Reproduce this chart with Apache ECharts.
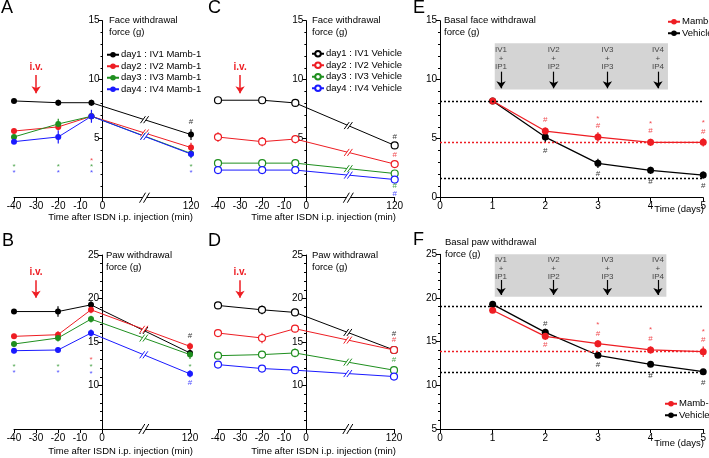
<!DOCTYPE html>
<html>
<head>
<meta charset="utf-8">
<script src="https://cdn.jsdelivr.net/npm/echarts@6/dist/echarts.min.js"></script>
<style>
  html, body { margin: 0; padding: 0; background: #fff; }
  #chart { width: 709px; height: 458px; }
</style>
</head>
<body>
<div id="chart"></div>
<script>
// ---- time-course panels (A-D): minutes after ISDN ----
const timesMin = [-40, -20, -5, 120];
const xTicksMin = [-40, -30, -20, -10, 0, 120];

// A: face, Mamb-1 (day1..day4)
const faceMambD1 = [8.2, 8.05, 8.05, 5.35];
const faceMambD2 = [5.65, 6.0, 6.9, 4.25];
const faceMambD3 = [5.15, 6.25, 6.9, 3.75];
const faceMambD4 = [4.75, 5.15, 6.9, 3.7];
const faceMambErr = [[0.15, 0.25, 0.25, 0.45], [0.2, 0.3, 0.3, 0.4], [0.2, 0.45, 0.3, 0.4], [0.2, 0.55, 0.55, 0.3]];

// C: face, vehicle
const faceVehD1 = [8.26, 8.26, 8.03, 4.43];
const faceVehD2 = [5.14, 4.75, 4.97, 2.85];
const faceVehD3 = [2.93, 2.93, 2.93, 2.05];
const faceVehD4 = [2.34, 2.34, 2.34, 1.54];
const faceVehErr = [[0.1, 0.15, 0.15, 0.2], [0.4, 0.4, 0.35, 0.25], [0.2, 0.2, 0.2, 0.15], [0.15, 0.15, 0.15, 0.15]];

// B: paw, Mamb-1
const pawMambD1 = [18.5, 18.5, 19.27, 13.74];
const pawMambD2 = [15.65, 15.84, 18.7, 14.5];
const pawMambD3 = [14.77, 15.46, 17.63, 13.55];
const pawMambD4 = [14.0, 14.08, 16.03, 11.34];
const pawMambErr = [[0.25, 0.6, 0.4, 0.4], [0.3, 0.4, 0.4, 0.4], [0.3, 0.4, 0.4, 0.5], [0.3, 0.3, 0.4, 0.4]];

// D: paw, vehicle
const pawVehD1 = [19.2, 18.7, 18.4, 14.08];
const pawVehD2 = [16.03, 15.46, 16.53, 14.08];
const pawVehD3 = [13.43, 13.55, 13.74, 11.76];
const pawVehD4 = [12.4, 11.95, 11.76, 11.03];
const pawVehErr = [[0.25, 0.5, 0.3, 0.3], [0.3, 0.6, 0.4, 0.3], [0.3, 0.4, 0.5, 0.3], [0.2, 0.3, 0.3, 0.3]];

const mambNames = ['day1 : IV1 Mamb-1', 'day2 : IV2 Mamb-1', 'day3 : IV3 Mamb-1', 'day4 : IV4 Mamb-1'];
const vehNames = ['day1 : IV1 Vehicle', 'day2 : IV2 Vehicle', 'day3 : IV3 Vehicle', 'day4 : IV4 Vehicle'];

// significance marks: [time, y, text, day index]
const sigA = [[-40, 2.6, '*', 2], [-40, 2.15, '*', 3], [-20, 2.6, '*', 2], [-20, 2.15, '*', 3],
  [-5, 3.1, '*', 1], [-5, 2.6, '*', 2], [-5, 2.15, '*', 3], [120, 6.45, '#', 0], [120, 2.6, '*', 2], [120, 2.1, '*', 3]];
const sigC = [[120, 5.2, '#', 0], [120, 3.65, '#', 1], [120, 0.98, '#', 2], [120, 0.36, '#', 3]];
const sigB = [[-40, 12.2, '*', 2], [-40, 11.5, '*', 3], [-20, 12.2, '*', 2], [-20, 11.5, '*', 3],
  [-5, 13.0, '*', 1], [-5, 12.2, '*', 2], [-5, 11.4, '*', 3], [120, 15.76, '#', 0], [120, 12.2, '*', 2], [120, 10.27, '#', 3]];
const sigD = [[120, 16.0, '#', 0], [120, 15.27, '#', 1], [120, 12.94, '#', 2]];

// i.v. arrow: [time, label y, arrow top, arrow bottom]
const ivFace = [-30, 10.85, 10.4, 8.85];
const ivPaw = [-30, 22.9, 22.1, 20.1];

// ---- daily panels (E-F) ----
const days = [1, 2, 3, 4, 5];
const faceBasalMamb = [8.19, 5.65, 5.14, 4.69, 4.69];
const faceBasalVeh = [8.19, 5.14, 2.91, 2.32, 1.92];
const faceBasalMambErr = [0.15, 0.3, 0.4, 0.3, 0.35];
const faceBasalVehErr = [0.15, 0.5, 0.4, 0.3, 0.3];
const pawBasalMamb = [18.59, 15.61, 14.77, 14.05, 13.85];
const pawBasalVeh = [19.27, 16.07, 13.44, 12.4, 11.56];
const pawBasalMambErr = [0.3, 0.4, 0.4, 0.4, 0.6];
const pawBasalVehErr = [0.3, 0.4, 0.3, 0.3, 0.3];

// reference levels: [y, group] (0 = Mamb-1, 1 = Vehicle)
const faceBaselines = [[8.19, 1], [4.66, 0], [1.69, 1]];
const pawBaselines = [[19.0, 1], [13.85, 0], [11.53, 1]];

// [day, y, text, group]
const sigE = [[2, 6.64, '#', 0], [2, 3.98, '#', 1], [3, 6.72, '*', 0], [3, 6.07, '#', 0], [3, 2.03, '#', 1],
  [4, 6.3, '*', 0], [4, 5.65, '#', 0], [4, 1.33, '#', 1], [5, 6.38, '*', 0], [5, 5.59, '#', 0], [5, 1.05, '#', 1]];
const sigF = [[2, 17.02, '#', 1], [2, 14.69, '#', 0], [3, 16.9, '*', 0], [3, 15.95, '#', 0], [3, 12.33, '#', 1],
  [4, 16.3, '*', 0], [4, 15.38, '#', 0], [4, 11.1, '#', 1], [5, 16.15, '*', 0], [5, 15.2, '#', 0], [5, 10.3, '#', 1]];

// treatment box: x range, y range, arrow x's, texts
const boxTexts = ['IV1\n+\nIP1', 'IV2\n+\nIP2', 'IV3\n+\nIP3', 'IV4\n+\nIP4'];
const boxArrowX = [1.16, 2.16, 3.18, 4.14];
const faceBox = [1.04, 4.33, 9.18, 13.08];   // x0, x1, y0, y1
const pawBox = [1.04, 4.3, 20.15, 25];
const faceBoxText = [12.9, 10.68, 9.27];     // text top, arrow top, arrow bottom
const pawBoxText = [24.9, 22.06, 20.34];

const BREAK_POS = 40;   // 120 min drawn here, after the axis break
const BREAK_MARK = 19;
const xPos = t => (t > 0 ? BREAK_POS : t);

const FONT = 'Liberation Sans, Arial, sans-serif';
const dayColors = ['#000000', '#ee1d23', '#1f8f1f', '#1a1aff'];
const grpColors = ['#ee1d23', '#000000'];

function errBar(params, api) {
  const x = api.value(0), y = api.value(1), e = api.value(2);
  const a = api.coord([x, y + e]);
  const b = api.coord([x, y - e]);
  return { type: 'line', shape: { x1: a[0], y1: a[1], x2: b[0], y2: b[1] },
    style: { stroke: api.visual('color'), lineWidth: 1.2 } };
}

function slashes(x, y, c, h, w, g) {
  return [
    { type: 'polygon', shape: { points: [[x - g - w, y + h], [x + g - w, y + h], [x + g + w, y - h], [x - g + w, y - h]] }, style: { fill: '#fff' } },
    { type: 'line', shape: { x1: x - g - w, y1: y + h, x2: x - g + w, y2: y - h }, style: { stroke: c, lineWidth: 1 } },
    { type: 'line', shape: { x1: x + g - w, y1: y + h, x2: x + g + w, y2: y - h }, style: { stroke: c, lineWidth: 1 } }
  ];
}

function breakMark(params, api) {
  const x1 = api.value(0), x2 = api.value(2);
  const p1 = api.coord([x1, api.value(1)]);
  const p2 = api.coord([x2, api.value(3)]);
  const f = (BREAK_MARK - x1) / (x2 - x1);
  const x = p1[0] + (p2[0] - p1[0]) * f;
  const y = p1[1] + (p2[1] - p1[1]) * f;
  return { type: 'group', children: slashes(x, y, api.visual('color'), 3.5, 2.5, 1.6) };
}

function axisBreak(params, api) {
  const p = api.coord([api.value(0), api.value(1)]);
  return { type: 'group', children: slashes(p[0], p[1], '#000', 5, 3, 2) };
}

function timePanel(gi, vals, errs, names, open, sig, iv, yMin) {
  const out = [];
  vals.forEach((v, k) => {
    out.push({ type: 'custom', xAxisIndex: gi, yAxisIndex: gi, renderItem: errBar, silent: true, z: 2,
      itemStyle: { color: dayColors[k] }, encode: { x: 0, y: 1 },
      data: timesMin.map((t, i) => [xPos(t), v[i], errs[k][i]]) });
  });
  vals.forEach((v, k) => {
    out.push({ type: 'line', name: names[k], xAxisIndex: gi, yAxisIndex: gi, z: 3, clip: false,
      symbol: 'circle', symbolSize: open ? 7 : 6, showSymbol: true,
      lineStyle: { color: dayColors[k], width: 1 },
      itemStyle: open ? { color: '#fff', borderColor: dayColors[k], borderWidth: 1.2 } : { color: dayColors[k] },
      data: timesMin.map((t, i) => [xPos(t), v[i]]) });
  });
  out.push({ type: 'custom', xAxisIndex: gi, yAxisIndex: gi, renderItem: breakMark, silent: true, z: 4,
    encode: { x: [0, 2], y: [1, 3] },
    data: vals.map((v, k) => ({ value: [xPos(-5), v[2], xPos(120), v[3]], itemStyle: { color: dayColors[k] } })) });
  out.push({ type: 'custom', xAxisIndex: gi, yAxisIndex: gi, renderItem: axisBreak, silent: true, z: 4,
    encode: { x: 0, y: 1 }, data: [[BREAK_MARK, yMin]] });
  out.push({ type: 'scatter', xAxisIndex: gi, yAxisIndex: gi, silent: true, z: 5, symbolSize: 1,
    itemStyle: { color: 'rgba(0,0,0,0)' },
    label: { show: true, position: 'inside', formatter: '{b}', fontSize: 8, fontFamily: FONT },
    data: sig.map(s => ({ value: [xPos(s[0]), s[1]], name: s[2], label: { color: dayColors[s[3]] } })),
    markLine: { silent: true, animation: false, symbol: ['none', 'arrow'], symbolSize: 7,
      lineStyle: { color: '#ee1d23', width: 1.5, type: 'solid' },
      label: { show: true, position: 'start', formatter: 'i.v.', color: '#ee1d23', fontSize: 10,
        fontWeight: 'bold', fontFamily: FONT, distance: 3 },
      data: [[{ coord: [iv[0], iv[2]] }, { coord: [iv[0], iv[3]] }]] } });
  return out;
}

function dayPanel(gi, mamb, veh, mambErr, vehErr, baselines, sig, box, boxText) {
  const out = [];
  out.push({ type: 'line', xAxisIndex: gi, yAxisIndex: gi, data: [], z: 0, silent: true,
    markArea: { silent: true, itemStyle: { color: '#d4d4d4' },
      data: [[{ coord: [box[0], box[3]] }, { coord: [box[1], box[2]] }]] } });
  out.push({ type: 'scatter', xAxisIndex: gi, yAxisIndex: gi, silent: true, z: 2, symbolSize: 1,
    itemStyle: { color: 'rgba(0,0,0,0)' },
    label: { show: true, position: 'bottom', distance: 0, formatter: '{b}', fontSize: 8, lineHeight: 8.5,
      color: '#222', fontFamily: FONT },
    data: boxArrowX.map((x, i) => ({ value: [x, boxText[0]], name: boxTexts[i] })),
    markLine: { silent: true, animation: false, symbol: ['none', 'arrow'], symbolSize: 7,
      lineStyle: { color: '#000', width: 1.2, type: 'solid' }, label: { show: false },
      data: boxArrowX.map(x => [{ coord: [x, boxText[1]] }, { coord: [x, boxText[2]] }]) } });
  [[veh, vehErr, 1], [mamb, mambErr, 0]].forEach(([v, e, g]) => {
    out.push({ type: 'custom', xAxisIndex: gi, yAxisIndex: gi, renderItem: errBar, silent: true, z: 3,
      itemStyle: { color: grpColors[g] }, encode: { x: 0, y: 1 },
      data: days.map((d, i) => [d, v[i], e[i]]) });
  });
  [[veh, 'Vehicle', 1], [mamb, 'Mamb-1', 0]].forEach(([v, name, g]) => {
    out.push({ type: 'line', name: name, xAxisIndex: gi, yAxisIndex: gi, z: 4, clip: false,
      symbol: 'circle', symbolSize: 7, lineStyle: { color: grpColors[g], width: 1.3 },
      itemStyle: { color: grpColors[g] }, data: days.map((d, i) => [d, v[i]]) });
  });
  out.push({ type: 'scatter', xAxisIndex: gi, yAxisIndex: gi, silent: true, z: 5, symbolSize: 1,
    itemStyle: { color: 'rgba(0,0,0,0)' },
    label: { show: true, position: 'inside', formatter: '{b}', fontSize: 8, fontFamily: FONT },
    data: sig.map(s => ({ value: [s[0], s[1]], name: s[2], label: { color: grpColors[s[3]] } })),
    markLine: { silent: true, animation: false, symbol: 'none', label: { show: false },
      data: baselines.map(b => ({ yAxis: b[0], lineStyle: { color: grpColors[b[1]], type: [2, 2], width: 1.3 } })) } });
  return out;
}

const grids = [
  { left: 14, top: 20.7, width: 177, height: 177 },     // A
  { left: 218, top: 20.7, width: 176.7, height: 177 },  // C
  { left: 14, top: 255, width: 176, height: 174 },      // B
  { left: 218, top: 255, width: 176, height: 174 },     // D
  { left: 440, top: 20.7, width: 265, height: 177 },    // E
  { left: 440, top: 254.3, width: 265, height: 174.7 }  // F
];

const axisTextStyle = { color: '#000', fontSize: 10, fontFamily: FONT };

function timeXAxis(gi) {
  return { gridIndex: gi, type: 'value', min: -40, max: BREAK_POS, interval: 10,
    axisLine: { onZero: false, lineStyle: { color: '#000', width: 1 } },
    axisTick: { customValues: xTicksMin.map(xPos), length: 4, lineStyle: { color: '#000' } },
    axisLabel: Object.assign({ customValues: xTicksMin.map(xPos), margin: 4,
      formatter: v => (v === BREAK_POS ? '120' : String(v)) }, axisTextStyle),
    splitLine: { show: false } };
}
function dayXAxis(gi) {
  return { gridIndex: gi, type: 'value', min: 0, max: 5, interval: 1,
    axisLine: { onZero: false, lineStyle: { color: '#000', width: 1 } },
    axisTick: { length: 4, lineStyle: { color: '#000' } },
    axisLabel: Object.assign({ margin: 4 }, axisTextStyle),
    splitLine: { show: false } };
}
// offset < 0 pulls the y axis into the grid (to the time-zero position)
function yAx(gi, min, max, hideMin, offset) {
  return { gridIndex: gi, type: 'value', min: min, max: max, interval: 5, position: 'left', offset: offset,
    axisLine: { show: true, onZero: false, lineStyle: { color: '#000', width: 1 } },
    axisTick: { show: true, length: 4, lineStyle: { color: '#000' } },
    minorTick: { show: true, splitNumber: 5, length: 2, lineStyle: { color: '#000' } },
    axisLabel: Object.assign({ margin: 3, formatter: v => (hideMin && v === min ? '' : String(v)) }, axisTextStyle),
    splitLine: { show: false }, minorSplitLine: { show: false } };
}

const legendBase = { orient: 'vertical', itemGap: 0, itemWidth: 12, itemHeight: 7, padding: 0,
  selectedMode: false, textStyle: { fontSize: 9.5, lineHeight: 11.5, color: '#000', fontFamily: FONT, padding: [0, 0, 0, -3] } };

function txt(x, y, text, opts) {
  return { type: 'text', x: x, y: y, silent: true,
    style: Object.assign({ text: text, fill: '#000', fontSize: 9.5, fontFamily: FONT, lineHeight: 11.5 }, opts || {}) };
}

const chart = echarts.init(document.getElementById('chart'));
chart.setOption({
  animation: false,
  backgroundColor: '#fff',
  grid: grids,
  xAxis: [timeXAxis(0), timeXAxis(1), timeXAxis(2), timeXAxis(3), dayXAxis(4), dayXAxis(5)],
  yAxis: [yAx(0, 0, 15, true, -88.5), yAx(1, 0, 15, true, -88.35), yAx(2, 5, 25, true, -88), yAx(3, 5, 25, true, -88),
    yAx(4, 0, 15, false, 0), yAx(5, 5, 25, false, 0)],
  legend: [
    Object.assign({}, legendBase, { data: mambNames, left: 106, top: 49 }),
    Object.assign({}, legendBase, { data: vehNames, left: 311, top: 48 }),
    Object.assign({}, legendBase, { data: ['Mamb-1', 'Vehicle'], left: 667, top: 16 }),
    Object.assign({}, legendBase, { data: ['Mamb-1', 'Vehicle'], left: 664, top: 398 })
  ],
  graphic: [
    txt(1, 2, 'A', { fontSize: 18 }), txt(208, 2, 'C', { fontSize: 18 }), txt(413, 2, 'E', { fontSize: 18 }),
    txt(2, 235, 'B', { fontSize: 18 }), txt(208, 235, 'D', { fontSize: 18 }), txt(413, 234, 'F', { fontSize: 18 }),
    txt(109, 15, 'Face withdrawal\nforce (g)'),
    txt(312, 15, 'Face withdrawal\nforce (g)'),
    txt(106, 250, 'Paw withdrawal\nforce (g)'),
    txt(312, 250, 'Paw withdrawal\nforce (g)'),
    txt(444, 15, 'Basal face withdrawal\nforce (g)'),
    txt(445, 237, 'Basal paw withdrawal\nforce (g)'),
    txt(193, 212, 'Time after ISDN i.p. injection (min)', { textAlign: 'right' }),
    txt(396, 212, 'Time after ISDN i.p. injection (min)', { textAlign: 'right' }),
    txt(193, 446, 'Time after ISDN i.p. injection (min)', { textAlign: 'right' }),
    txt(396, 446, 'Time after ISDN i.p. injection (min)', { textAlign: 'right' }),
    txt(704, 204, 'Time (days)', { textAlign: 'right' }),
    txt(704, 438, 'Time (days)', { textAlign: 'right' })
  ],
  series: [].concat(
    timePanel(0, [faceMambD1, faceMambD2, faceMambD3, faceMambD4], faceMambErr, mambNames, false, sigA, ivFace, 0),
    timePanel(1, [faceVehD1, faceVehD2, faceVehD3, faceVehD4], faceVehErr, vehNames, true, sigC, ivFace, 0),
    timePanel(2, [pawMambD1, pawMambD2, pawMambD3, pawMambD4], pawMambErr, mambNames, false, sigB, ivPaw, 5),
    timePanel(3, [pawVehD1, pawVehD2, pawVehD3, pawVehD4], pawVehErr, vehNames, true, sigD, ivPaw, 5),
    dayPanel(4, faceBasalMamb, faceBasalVeh, faceBasalMambErr, faceBasalVehErr, faceBaselines, sigE, faceBox, faceBoxText),
    dayPanel(5, pawBasalMamb, pawBasalVeh, pawBasalMambErr, pawBasalVehErr, pawBaselines, sigF, pawBox, pawBoxText)
  )
});
</script>
</body>
</html>
